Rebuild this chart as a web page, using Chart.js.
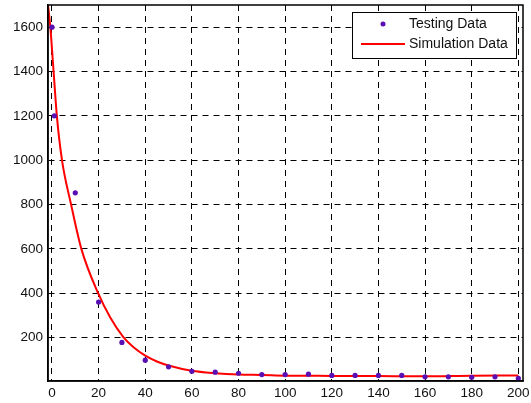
<!DOCTYPE html>
<html>
<head>
<meta charset="utf-8">
<script src="https://cdn.jsdelivr.net/npm/chart.js@4.4.0/dist/chart.umd.min.js"></script>
<style>
  html, body { margin: 0; padding: 0; background: #fff; }
  #wrap { position: relative; width: 531px; height: 403px; }
</style>
</head>
<body>
<div id="wrap"><canvas id="chart"></canvas></div>
<script>
// measured points
const testX = [0, 1, 10, 20, 30, 40, 50, 60, 70, 80, 90, 100, 110, 120, 130, 140, 150, 160, 170, 180, 190, 200];
const testY = [1600, 1200, 853, 360, 178, 98, 68, 48, 44, 39, 33, 33, 35, 29, 29, 29, 29, 23, 23, 21, 23, 16];

// simulated curve
const simX = [-1.7, -0.7, 0.7, 2.1, 4.3, 8.2, 12.6, 19.8, 25, 30.6, 35, 40, 45, 50, 60, 70, 80, 90, 100, 120, 140, 160, 180, 200];
const simY = [1700, 1600, 1400, 1200, 1000, 800, 600, 400, 290, 202, 156, 118, 92, 74, 50, 39, 33, 31, 28, 27, 26, 25, 28, 29];

const xTicks = [0, 20, 40, 60, 80, 100, 120, 140, 160, 180, 200];
const yTicks = [200, 400, 600, 800, 1000, 1200, 1400, 1600];

const seriesNames = ["Testing Data", "Simulation Data"];

const FONT = "'Liberation Sans', Arial, Helvetica, sans-serif";
const dotColor = "#5a0fb4";
const lineColor = "#ff0000";

// box around the plot + legend drawn inside the axes
const boxAndLegend = {
    id: "boxAndLegend",
    afterDatasetsDraw(chart) {
        const c = chart.ctx;
        const a = chart.chartArea;
        c.save();
        c.strokeStyle = "#000";
        c.lineWidth = 1.5;
        c.strokeRect(a.left, a.top, a.right - a.left, a.bottom - a.top);

        // legend
        const lx = 352.5, ly = 12.5, lw = 164, lh = 46;
        c.fillStyle = "#fff";
        c.fillRect(lx, ly, lw, lh);
        c.lineWidth = 1;
        c.strokeRect(lx, ly, lw, lh);

        c.fillStyle = dotColor;
        c.beginPath();
        c.arc(383, 24, 2.5, 0, Math.PI * 2);
        c.fill();

        c.strokeStyle = lineColor;
        c.lineWidth = 2;
        c.beginPath();
        c.moveTo(361, 44);
        c.lineTo(405, 44);
        c.stroke();

        c.fillStyle = "#111";
        c.font = "14px " + FONT;
        c.textBaseline = "middle";
        c.fillText(seriesNames[0], 409, 24);
        c.fillText(seriesNames[1], 409, 44);
        c.restore();
    }
};

// no extra room for the end labels, keep the plot box where the picture has it
function noPad(s) {
    s.paddingTop = 0;
    s.paddingBottom = 0;
    s.paddingLeft = 0;
    s.paddingRight = 0;
}

new Chart(document.getElementById("chart"), {
    type: "scatter",
    data: {
        datasets: [
            {
                label: seriesNames[0],
                data: testX.map((x, i) => ({ x: x, y: testY[i] })),
                backgroundColor: dotColor,
                borderColor: dotColor,
                pointRadius: 2.6,
                pointBorderWidth: 0,
                showLine: false,
                order: 0
            },
            {
                label: seriesNames[1],
                data: simX.map((x, i) => ({ x: x, y: simY[i] })),
                borderColor: lineColor,
                backgroundColor: lineColor,
                borderWidth: 2,
                pointRadius: 0,
                showLine: true,
                cubicInterpolationMode: "monotone",
                order: 1
            }
        ]
    },
    options: {
        responsive: true,
        maintainAspectRatio: false,
        animation: false,
        layout: { padding: { top: 5, right: 8, left: 0, bottom: 0 } },
        plugins: {
            legend: { display: false },
            tooltip: { enabled: false }
        },
        scales: {
            x: {
                type: "linear",
                min: -1.7,
                max: 202,
                afterBuildTicks: s => { s.ticks = xTicks.map(v => ({ value: v })); },
                afterFit: s => { s.height = 22; noPad(s); },
                ticks: {
                    color: "#111",
                    font: { family: FONT, size: 13.5 },
                    padding: 4,
                    maxRotation: 0,
                    callback: v => String(v)
                },
                grid: { color: "#000", lineWidth: 1, drawTicks: false },
                border: { display: true, color: "#000", width: 1.5, dash: [6, 5] }
            },
            y: {
                type: "linear",
                min: 4,
                max: 1700,
                afterBuildTicks: s => { s.ticks = yTicks.map(v => ({ value: v })); },
                afterFit: s => { s.width = 48; noPad(s); },
                ticks: {
                    color: "#111",
                    font: { family: FONT, size: 13.5 },
                    padding: 5,
                    callback: v => String(v)
                },
                grid: { color: "#000", lineWidth: 1, drawTicks: false },
                border: { display: true, color: "#000", width: 1.5, dash: [6, 5] }
            }
        }
    },
    plugins: [boxAndLegend]
});
</script>
</body>
</html>
